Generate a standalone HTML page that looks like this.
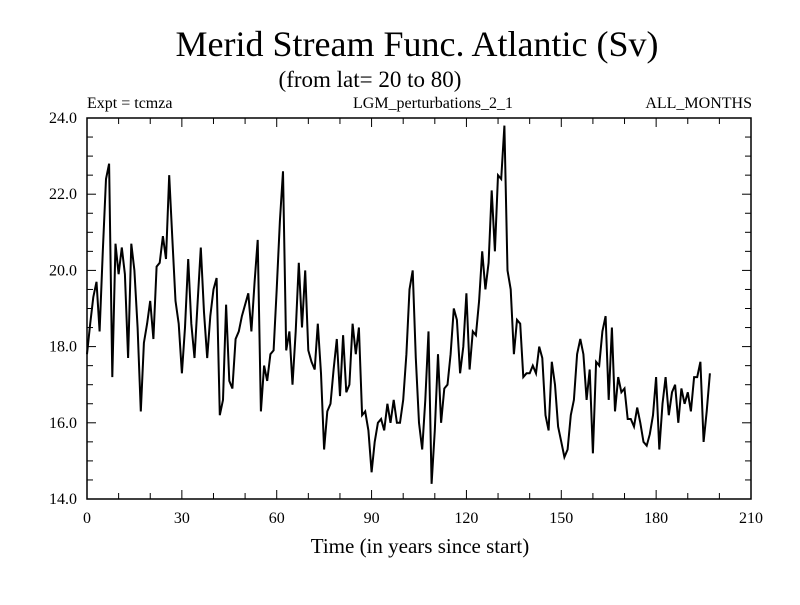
<!DOCTYPE html>
<html><head><meta charset="utf-8"><style>
body{margin:0;background:#fff;}
svg text{font-family:"Liberation Serif",serif;fill:#000;}
</style></head><body>
<svg id="chart" width="800" height="600" viewBox="0 0 800 600" xmlns="http://www.w3.org/2000/svg">
<rect width="800" height="600" fill="#fff"/>
<text x="417" y="56" font-size="36" text-anchor="middle">Merid Stream Func. Atlantic (Sv)</text>
<text x="370" y="87" font-size="23" text-anchor="middle">(from lat= 20 to 80)</text>
<text x="87" y="108" font-size="16">Expt = tcmza</text>
<text x="433" y="108" font-size="16" text-anchor="middle">LGM_perturbations_2_1</text>
<text x="752" y="108" font-size="16" text-anchor="end">ALL_MONTHS</text>
<text x="420" y="553" font-size="21" text-anchor="middle">Time (in years since start)</text>
<g id="axes"></g>
<path id="series" fill="none" stroke="#000" stroke-width="2"/>
<rect x="87" y="118" width="664" height="381" fill="none" stroke="#000" stroke-width="1.5"/>
</svg>
<script>
const values = [17.8,18.6,19.3,19.7,18.4,20.5,22.4,22.8,17.2,20.7,19.9,20.6,19.9,17.7,20.7,20.0,18.5,16.3,18.1,18.6,19.2,18.2,20.1,20.2,20.9,20.3,22.5,20.8,19.2,18.6,17.3,18.5,20.3,18.6,17.7,19.2,20.6,18.9,17.7,18.8,19.5,19.8,16.2,16.6,19.1,17.1,16.9,18.2,18.4,18.8,19.1,19.4,18.4,19.7,20.8,16.3,17.5,17.1,17.8,17.9,19.5,21.3,22.6,17.9,18.4,17.0,18.4,20.2,18.5,20.0,17.9,17.6,17.4,18.6,17.3,15.3,16.3,16.5,17.4,18.2,16.7,18.3,16.8,17.0,18.6,17.8,18.5,16.2,16.3,15.8,14.7,15.5,16.0,16.1,15.8,16.5,16.0,16.6,16.0,16.0,16.6,17.8,19.5,20.0,17.7,16.0,15.3,16.6,18.4,14.4,15.8,17.8,16.0,16.9,17.0,17.8,19.0,18.7,17.3,18.0,19.4,17.4,18.4,18.3,19.2,20.5,19.5,20.2,22.1,20.5,22.5,22.4,23.8,20.0,19.5,17.8,18.7,18.6,17.2,17.3,17.3,17.5,17.3,18.0,17.7,16.2,15.8,17.6,17.0,15.9,15.5,15.1,15.3,16.2,16.6,17.8,18.2,17.8,16.6,17.4,15.2,17.6,17.5,18.4,18.8,16.6,18.5,16.3,17.2,16.8,16.9,16.1,16.1,15.9,16.4,16.0,15.5,15.4,15.7,16.2,17.2,15.3,16.5,17.2,16.2,16.8,17.0,16.0,16.9,16.5,16.8,16.3,17.2,17.2,17.6,15.5,16.3,17.3];
const years = values.map((v,i)=>i);
const xTickLabels = ["0","30","60","90","120","150","180","210"];
const yTickLabels = ["14.0","16.0","18.0","20.0","22.0","24.0"];
const NS="http://www.w3.org/2000/svg";
const X0=87,X1=751,Y0=499,Y1=118;
const xs = v => X0+(v-0)/(210-0)*(X1-X0);
const ys = v => Y0-(v-14)/(24-14)*(Y0-Y1);
document.getElementById('series').setAttribute('d', values.map((v,i)=>(i?'L':'M')+xs(years[i]).toFixed(1)+','+ys(v).toFixed(1)).join(''));
const g=document.getElementById('axes');
function line(x1,y1,x2,y2,name){const l=document.createElementNS(NS,'line');
l.setAttribute('x1',x1);l.setAttribute('y1',y1);l.setAttribute('x2',x2);l.setAttribute('y2',y2);
l.setAttribute('stroke','#000');l.setAttribute('stroke-width','1');


g.appendChild(l);}
function text(x,y,s,anchor,name){const t=document.createElementNS(NS,'text');
t.setAttribute('x',x);t.setAttribute('y',y);t.setAttribute('font-size','16');t.setAttribute('text-anchor',anchor);t.textContent=s;


g.appendChild(t);}
for(let yr=0;yr<=210;yr+=10){const x=xs(yr);const len=yr%30===0?9:6;
line(x,Y0,x,Y0-len,'x-tick');line(x,Y1,x,Y1+len,'x-tick-top');}
for(let v=14;v<=24.001;v+=0.5){const y=ys(v);const len=Math.abs(v-Math.round(v/2)*2)<0.01?9:6;
line(X0,y,X0+len,y,'y-tick');line(X1,y,X1-len,y,'y-tick-right');}
xTickLabels.forEach(s=>text(xs(parseFloat(s)),523,s,'middle','x-tick-label'));
yTickLabels.forEach(s=>text(77,ys(parseFloat(s))+5,s,'end','y-tick-label'));
</script>
</body></html>
